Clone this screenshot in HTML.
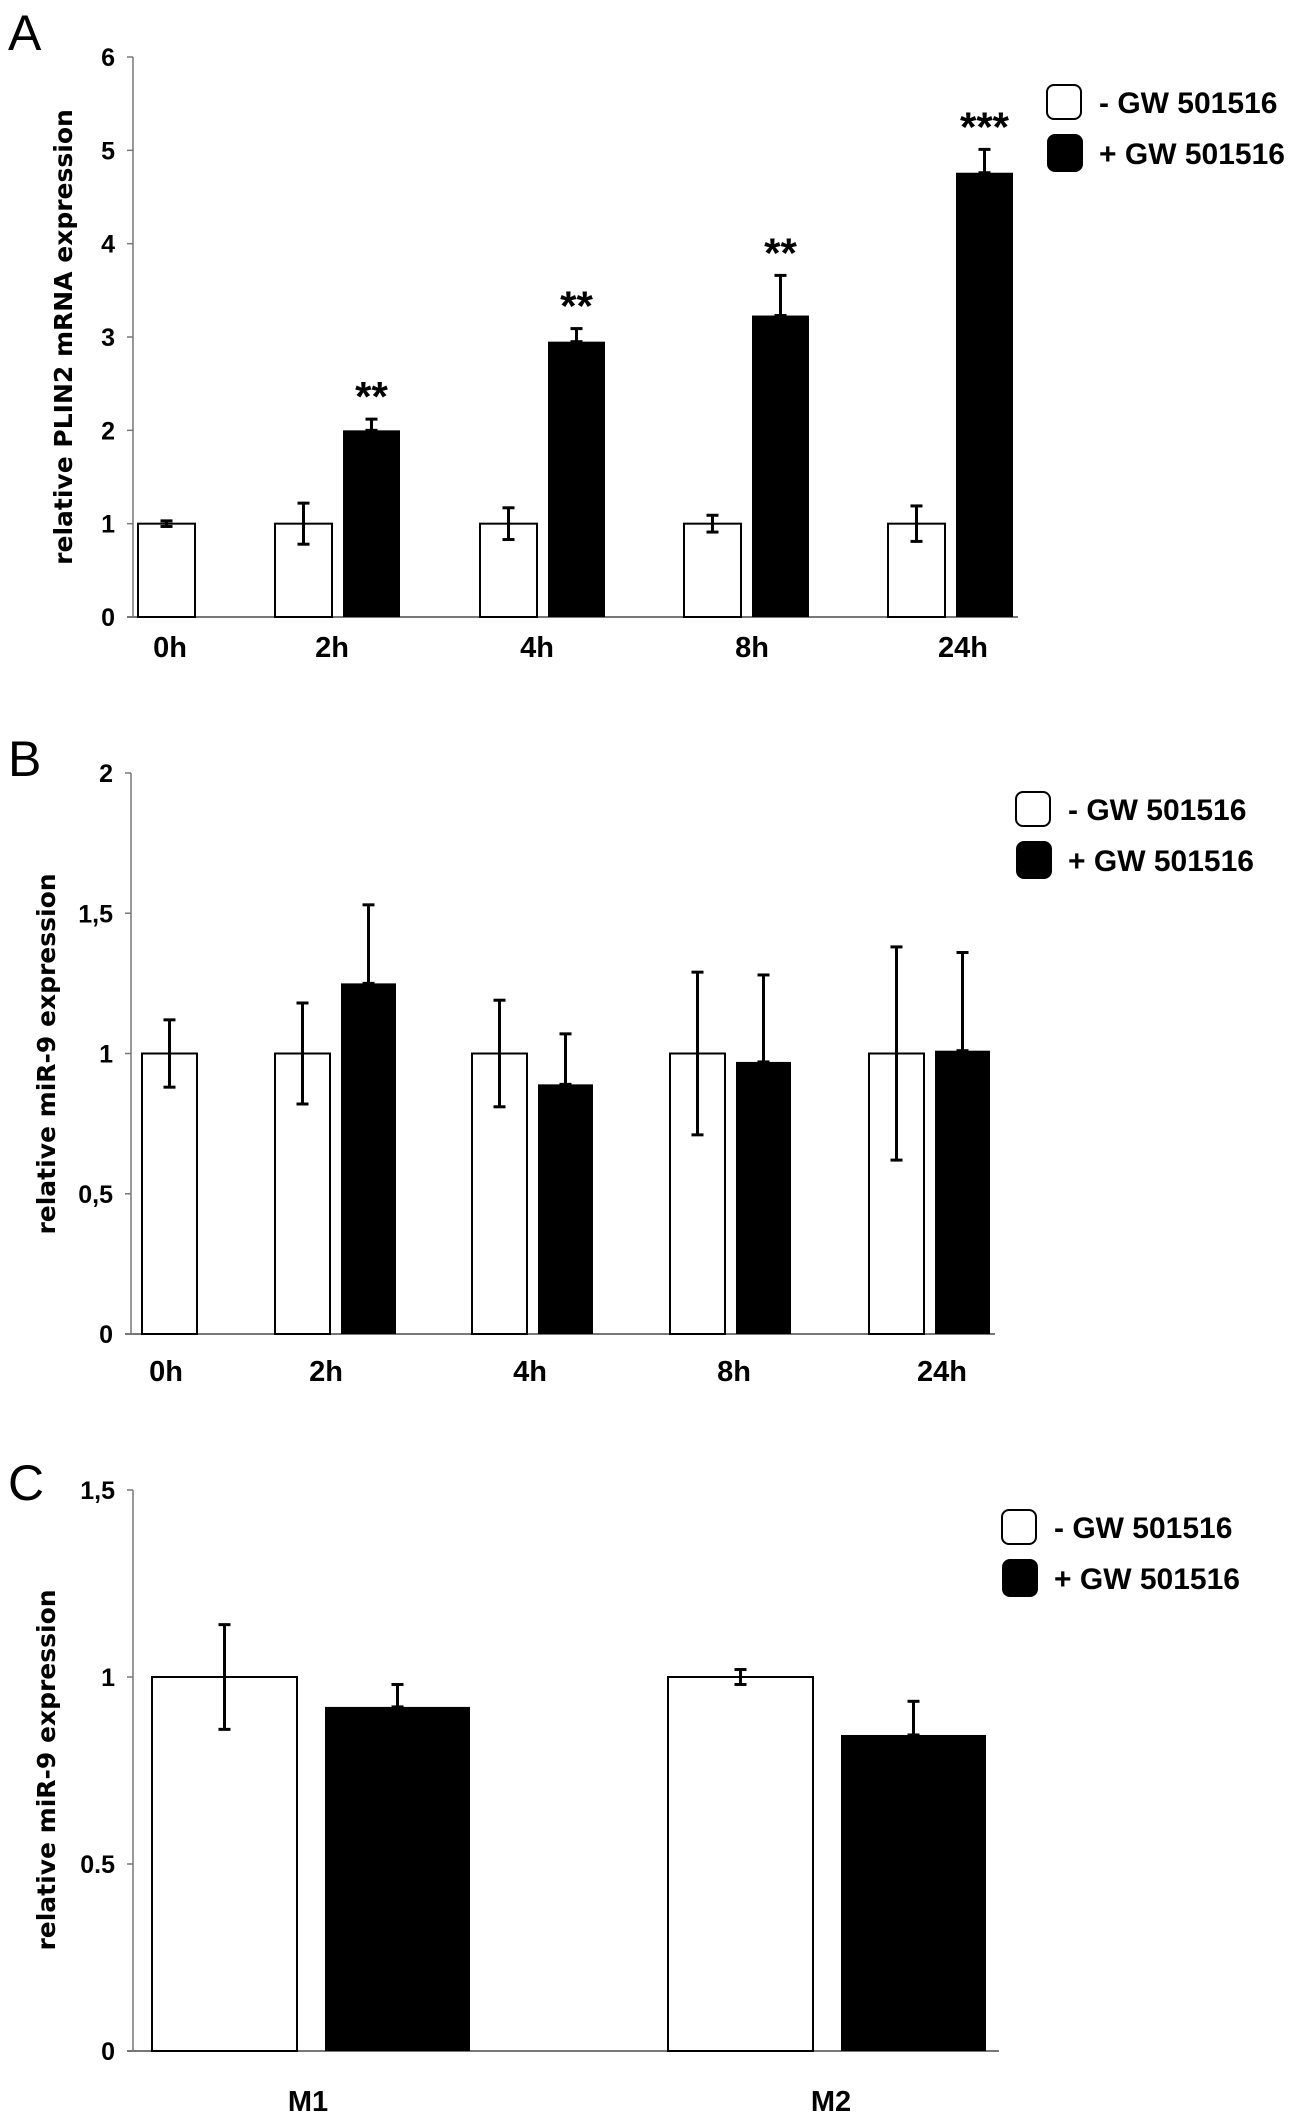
<!DOCTYPE html>
<html><head><meta charset="utf-8">
<style>
html,body{margin:0;padding:0;background:#fff;}
svg{display:block;}
text{font-family:"Liberation Sans Narrow","Liberation Sans",sans-serif;font-weight:bold;fill:#000;font-stretch:condensed;}
.letter{font-family:"Liberation Sans",sans-serif;font-weight:normal;font-size:50px;font-stretch:normal;}
.ytitle{font-family:"DejaVu Sans","Liberation Sans",sans-serif;font-size:25px;font-weight:bold;font-stretch:normal;}
</style></head>
<body>
<svg id="fig" width="1299" height="2119" viewBox="0 0 1299 2119" xmlns="http://www.w3.org/2000/svg"></svg>
<script>
// Panel A data
const catsA = ["0h","2h","4h","8h","24h"];
const ctrlA = [1,1,1,1,1];
const ctrlErrA = [0.03,0.22,0.17,0.09,0.19];
const gwA = [null,2.0,2.95,3.23,4.76];
const gwErrA = [null,0.12,0.14,0.43,0.25];
const starsA = ["","**","**","**","***"];
const ticksA = ["0","1","2","3","4","5","6"];
// Panel B data
const catsB = ["0h","2h","4h","8h","24h"];
const ctrlB = [1,1,1,1,1];
const ctrlErrB = [0.12,0.18,0.19,0.29,0.38];
const gwB = [null,1.25,0.89,0.97,1.01];
const gwErrB = [null,0.28,0.18,0.31,0.35];
const ticksB = ["0","0,5","1","1,5","2"];
// Panel C data
const catsC = ["M1","M2"];
const ctrlC = [1,1];
const ctrlErrC = [0.14,0.02];
const gwC = [0.92,0.845];
const gwErrC = [0.06,0.09];
const ticksC = ["0","0.5","1","1,5"];

const svg = document.getElementById('fig');
const NS = "http://www.w3.org/2000/svg";
function mk(tag, attrs, parent){const e=document.createElementNS(NS,tag);for(const k in attrs)e.setAttribute(k,attrs[k]);(parent||svg).appendChild(e);return e;}

function panel(p){
  const g = mk('g',{});
  
  
  const y = v => p.y0 - (v/p.max)*(p.y0-p.yTop);
  const lt = mk('text',{x:p.letterX,y:p.letterY,'class':'letter'},g); lt.textContent=p.letter;
  
  
  const ax = mk('line',{x1:p.ax,y1:p.yTop,x2:p.ax,y2:p.y0,stroke:'#777','stroke-width':1.5},g);
  
  
  const xa = mk('line',{x1:p.ax-6,y1:p.y0,x2:p.axEnd,y2:p.y0,stroke:'#777','stroke-width':2},g);
  
  
  p.ticks.forEach((t,i)=>{
    const v = i*p.max/(p.ticks.length-1);
    mk('line',{x1:p.ax-6,y1:y(v),x2:p.ax,y2:y(v),stroke:'#777','stroke-width':1.5},g);
    const tx = mk('text',{x:p.ax-18,y:y(v)+9,'text-anchor':'end','font-size':25},g);
    tx.textContent=t;
    
    
  });
  const yt = mk('text',{x:0,y:0,'text-anchor':'middle','class':'ytitle',transform:`translate(${p.ytX},${p.ytY}) rotate(-90)`},g);
  yt.textContent = p.ytitle;
  
  
  p.cats.forEach((c,i)=>{
    const cx0 = p.ctrlX[i];
    const wb = mk('rect',{x:cx0,y:y(p.ctrl[i]),width:p.bw,height:p.y0-y(p.ctrl[i]),fill:'#fff',stroke:'#000','stroke-width':2},g);
    
    
    errbar(g, cx0+p.bw/2, y(p.ctrl[i]+p.ctrlErr[i]), y(p.ctrl[i]-p.ctrlErr[i]));
    if(p.gw[i]!=null){
      const gx = cx0 + p.gap;
      const bb = mk('rect',{x:gx,y:y(p.gw[i]),width:p.bw,height:p.y0-y(p.gw[i]),fill:'#000'},g);
      
      
      errbar(g, gx+p.bw/2, y(p.gw[i]+p.gwErr[i]), y(p.gw[i]));
      if(p.stars && p.stars[i]){
        const st = mk('text',{x:gx+p.bw/2,y:y(p.gw[i]+p.gwErr[i])-8,'text-anchor':'middle','font-size':42,'font-family':'DejaVu Sans'},g);
        st.textContent=p.stars[i];
        
        
      }
    }
    const lx = p.labX[i];
    const xl = mk('text',{x:lx,y:p.labY,'text-anchor':'middle','font-size':29},g);
    xl.textContent=c;
    
    
  });
  const lg = mk('g',{},g);
  
  
  mk('rect',{x:p.legX,y:p.legY,width:34,height:34,rx:7,fill:'#fff',stroke:'#000','stroke-width':2},lg);
  mk('rect',{x:p.legX,y:p.legY+49,width:36,height:38,rx:8,fill:'#000'},lg);
  const l1 = mk('text',{x:p.legX+52,y:p.legY+28,'font-size':30},lg); l1.textContent='- GW 501516';
  
  
  const l2 = mk('text',{x:p.legX+52,y:p.legY+79,'font-size':30},lg); l2.textContent='+ GW 501516';
  
  
}
function errbar(g,x,yh,yl){
  mk('line',{x1:x,y1:yh,x2:x,y2:yl,stroke:'#000','stroke-width':3},g);
  mk('line',{x1:x-6,y1:yh,x2:x+6,y2:yh,stroke:'#000','stroke-width':3},g);
  mk('line',{x1:x-6,y1:yl,x2:x+6,y2:yl,stroke:'#000','stroke-width':3},g);
}

panel({name:'panel-a',letter:'A',letterX:8,letterY:50,ax:133,axEnd:1018,yTop:57,y0:617,max:6,ticks:ticksA,
  ytitle:'relative PLIN2 mRNA expression',ytX:72,ytY:337,cats:catsA,ctrl:ctrlA,ctrlErr:ctrlErrA,gw:gwA,gwErr:gwErrA,stars:starsA,
  ctrlX:[138,275,480,684,888],bw:57,gap:68,labY:657,labX:[170,332,537,752,963],legX:1047,legY:85});
panel({name:'panel-b',letter:'B',letterX:8,letterY:776,ax:131,axEnd:995,yTop:773,y0:1334,max:2,ticks:ticksB,
  ytitle:'relative miR-9 expression',ytX:55,ytY:1054,cats:catsB,ctrl:ctrlB,ctrlErr:ctrlErrB,gw:gwB,gwErr:gwErrB,
  ctrlX:[142,275,472,670,869],bw:55,gap:66,labY:1381,labX:[166,326,530,734,942],legX:1016,legY:792});
panel({name:'panel-c',letter:'C',letterX:8,letterY:1500,ax:133,axEnd:999,yTop:1490,y0:2051,max:1.5,ticks:ticksC,
  ytitle:'relative miR-9 expression',ytX:55,ytY:1770,cats:catsC,ctrl:ctrlC,ctrlErr:ctrlErrC,gw:gwC,gwErr:gwErrC,
  ctrlX:[152,668],bw:145,gap:173,labY:2111,labX:[308,831],legX:1002,legY:1510});
</script>
</body></html>
